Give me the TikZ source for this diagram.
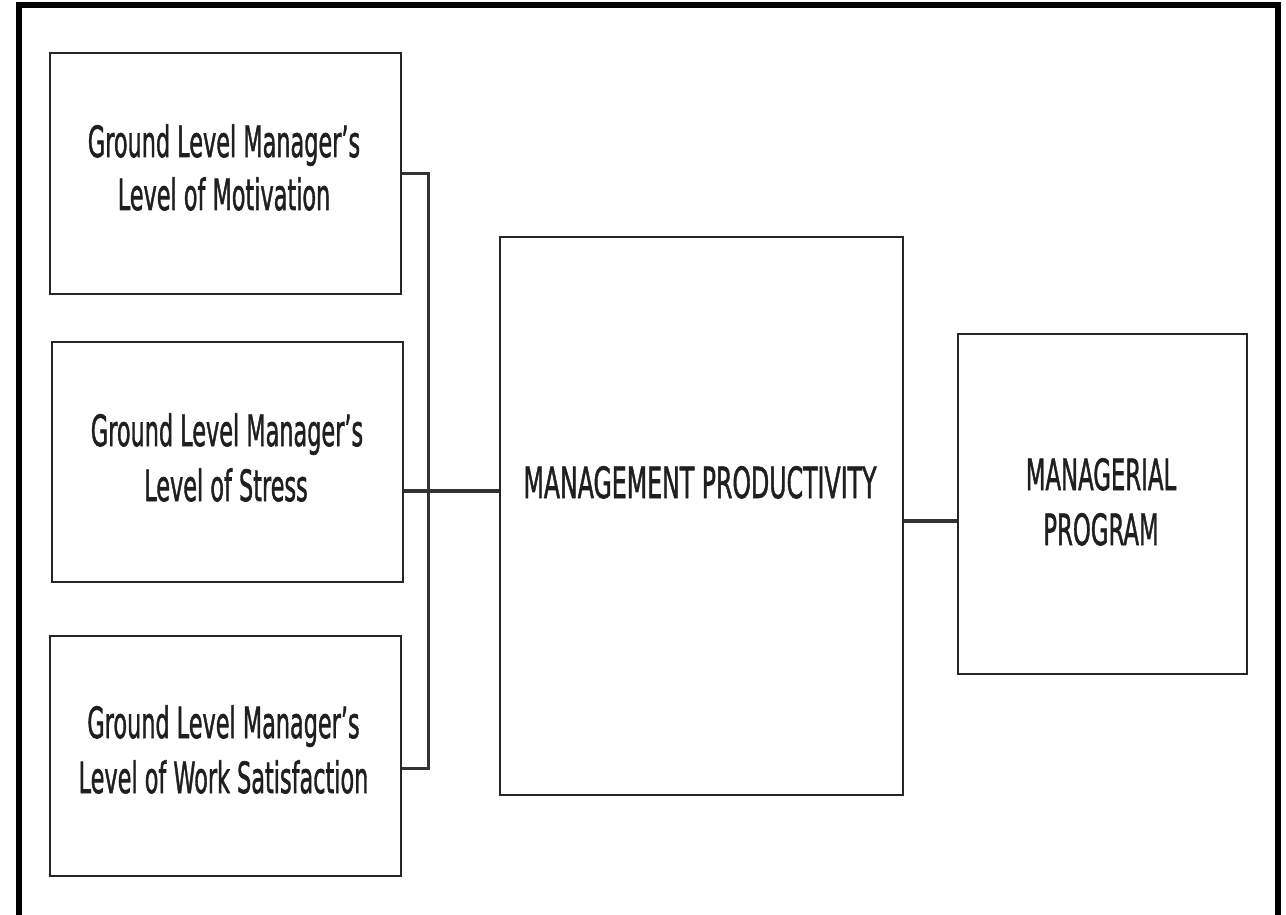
\documentclass[tikz,border=0pt]{standalone}
\usepackage{fontspec}
\setmainfont{DejaVu Sans}[BoldFont=DejaVu Sans, BoldFeatures={FakeBold=1.6}]
\usepackage{graphicx}
\newcommand{\narrow}[2][0.52]{\scalebox{#1}[1]{#2}}
\begin{document}
\begin{tikzpicture}[x=1pt,y=-1pt,
  box/.style={draw=black!85, line width=2.8pt, fill=white, inner sep=0pt},
  link/.style={draw=black!80, line width=3pt},
  txt/.style={anchor=base, inner sep=0pt, text=black!88, font=\fontsize{43}{52}\bfseries\selectfont}]
\useasboundingbox (0,0) rectangle (1286,915);
\fill[white] (0,0) rectangle (1286,915);
% outer frame (open at the bottom)
\draw[line width=6pt] (19,915) -- (19,5.5) -- (1277.5,5.5) -- (1277.5,915);

% boxes
\node[box, minimum width=351pt, minimum height=241pt] (b1) at (225.5,173.5) {};
\node[box, minimum width=351pt, minimum height=240pt] (b2) at (227.5,462) {};
\node[box, minimum width=351pt, minimum height=240pt] (b3) at (225.5,756) {};
\node[box, minimum width=403pt, minimum height=558pt] (mp) at (701.5,516) {};
\node[box, minimum width=289pt, minimum height=340pt] (mg) at (1102.5,504) {};

% labels
\node[txt] (t1a) at (224,157) {\narrow{Ground Level Manager’s}};
\node[txt] (t1b) at (224,210) {\narrow{Level of Motivation}};
\node[txt] (t2a) at (227,446) {\narrow{Ground Level Manager’s}};
\node[txt] (t2b) at (226,501) {\narrow{Level of Stress}};
\node[txt] (t3a) at (223.5,738) {\narrow{Ground Level Manager’s}};
\node[txt] (t3b) at (223.5,793) {\narrow{Level of Work Satisfaction}};
\node[txt] (tm) at (700,498) {\narrow[0.55]{MANAGEMENT PRODUCTIVITY}};
\node[txt] (tga) at (1101,490) {\narrow[0.53]{MANAGERIAL}};
\node[txt] (tgb) at (1101,545) {\narrow[0.53]{PROGRAM}};

% connectors
\coordinate (jt) at (428,173.5);
\coordinate (jb) at (428,768);
\coordinate (jm) at (428,491);
\coordinate (jr) at (930,521);
\draw[link] (b1.east) -- (jt) -- (jb) -- (jb -| b3.east);
\draw[link, line width=3.6pt] (jm -| b2.east) -- (jm -| mp.west);
\draw[link, line width=3.6pt] (jr -| mp.east) -- (jr -| mg.west);
\end{tikzpicture}
\end{document}
